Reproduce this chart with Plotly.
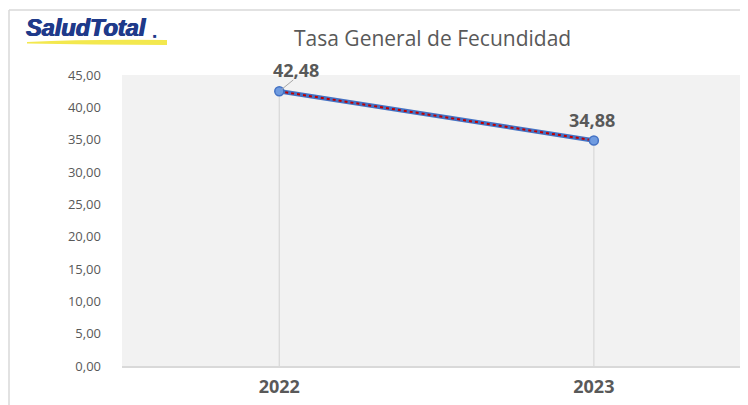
import plotly.graph_objects as go

years = ["2022", "2023"]
values = [42.48, 34.88]
labels = ["42,48", "34,88"]
y_ticks = [0, 5, 10, 15, 20, 25, 30, 35, 40, 45]
y_tick_text = ["0,00", "5,00", "10,00", "15,00", "20,00", "25,00", "30,00", "35,00", "40,00", "45,00"]
title = "Tasa General de Fecundidad"

OFF = 8  # page body margin
W, H = 740, 397
L, R, T, B = 114, 0, 67, 39
pw, ph = W - L - R, H - T - B

def px(x):
    return (x - OFF - L) / pw

def py(y):
    return (H - B - (y - OFF)) / ph

fig = go.Figure()

# drop lines
for yr, v in zip(years, values):
    fig.add_trace(go.Scatter(x=[yr, yr], y=[0, v], mode="lines",
                             line=dict(color="#d9d9d9", width=1.3),
                             hoverinfo="skip", showlegend=False))

fig.add_trace(go.Scatter(x=years, y=values, mode="lines",
                         line=dict(color="#4472c4", width=4.5),
                         showlegend=False))
fig.add_trace(go.Scatter(x=years, y=values, mode="lines+markers",
                         line=dict(color="#c00000", width=2, dash="dot"),
                         marker=dict(size=9, color="#6f9be0", line=dict(color="#4472c4", width=1.5)),
                         showlegend=False))

# data labels
lab_font = dict(size=18, color="#595959", family="Open Sans")
fig.add_annotation(x=0, y=values[0], text=" ", showarrow=True,
                   arrowhead=0, arrowwidth=1, arrowcolor="#a6a6a6", ax=16, ay=-13,
                   standoff=3, font=dict(size=2))
fig.add_annotation(x=0, y=values[0], text="<b>" + labels[0] + "</b>", showarrow=False,
                   xshift=17, yshift=21.5, yanchor="middle", font=lab_font)
fig.add_annotation(x=1, y=values[1], text="<b>" + labels[1] + "</b>", showarrow=False,
                   yshift=20.5, xshift=-1.5, yanchor="middle", font=lab_font)

# title
fig.add_annotation(xref="paper", yref="paper", x=px(432), y=py(38), text=title, showarrow=False,
                   font=dict(size=21, color="#595959", family="Open Sans"),
                   xanchor="center", yanchor="middle")

# logo
fig.add_shape(type="path", xref="paper", yref="paper",
              path=(f"M {px(27)},{py(42)} Q {px(90)},{py(39)} {px(167)},{py(40)} "
                    f"L {px(167)},{py(45)} Q {px(90)},{py(44.5)} {px(27)},{py(43.5)} Z"),
              fillcolor="#f3e84e", line=dict(width=0))
fig.add_annotation(xref="paper", yref="paper", x=px(24), y=py(28), text="<b><i>SaludTotal</i></b>",
                   showarrow=False, xanchor="left", yanchor="middle",
                   font=dict(size=23.5, color="#1f3a8a", family="Liberation Sans",
                             shadow="0.7px 0 0 #1f3a8a, -0.5px 0 0 #1f3a8a"))
fig.add_annotation(xref="paper", yref="paper", x=px(151), y=py(36), text="<b>■</b>",
                   showarrow=False, xanchor="left", yanchor="middle",
                   font=dict(size=6, color="#1f3a8a", family="Liberation Sans"))

# frame
fig.add_shape(type="line", xref="paper", yref="paper", x0=px(9), x1=px(9), y0=py(10), y1=py(420),
              line=dict(color="#d9d9d9", width=1.5))
fig.add_shape(type="line", xref="paper", yref="paper", x0=px(9), x1=px(760), y0=py(10), y1=py(10),
              line=dict(color="#d9d9d9", width=1.5))

fig.update_layout(
    width=W, height=H,
    margin=dict(l=L, r=R, t=T, b=B),
    paper_bgcolor="white", plot_bgcolor="#f2f2f2",
    showlegend=False,
    xaxis=dict(type="category", range=[-0.5, 1.49], showgrid=False, zeroline=False,
               showline=True, linecolor="#d9d9d9", linewidth=1.5, ticks="",
               tickfont=dict(size=18, color="#595959", family="Open Sans"),
               tickvals=years, ticktext=["<b>" + y + "</b>" for y in years], ticklabelstandoff=4),
    yaxis=dict(range=[0, 45], tickvals=y_ticks, ticktext=y_tick_text, showgrid=False,
               zeroline=False, showline=False, ticks="",
               tickfont=dict(size=13, color="#595959", family="Open Sans"), ticklabelstandoff=20),
)

fig.write_html("out.html")
